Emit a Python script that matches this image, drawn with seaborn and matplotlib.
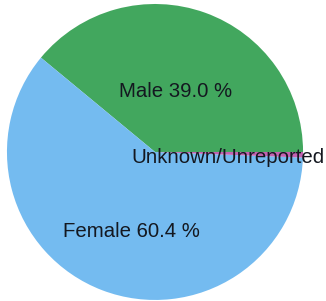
import numpy as np
import matplotlib
matplotlib.use("Agg")
from matplotlib import pyplot as plt
import seaborn as sns

# gender breakdown
groups = ['Male', 'Female', 'Unknown/Unreported']
shares = [39.0, 60.4, 0.6]
colours = ['#42a75e', '#74bbf0', '#c262b0']

sns.set_style('white')
plt.rcParams['font.family'] = ['Liberation Sans', 'DejaVu Sans']

labels = []
for g, s in zip(groups, shares):
    if g.startswith('Unknown'):
        labels.append(g)
    else:
        labels.append('%s %.1f %%' % (g, s))

# where the labels sit (data coords, pie radius 1)
label_pos = [(0.142, 0.412), (-0.162, -0.534), (0.493, -0.034)]

fig = plt.figure(figsize=(3.26, 3.01), dpi=100)
ax = fig.add_axes([0, 0, 1, 1])
wedges, texts = ax.pie(shares, labels=labels, colors=colours, startangle=0,
                       counterclock=True, labeldistance=0.5,
                       wedgeprops={'linewidth': 0, 'edgecolor': 'none'},
                       textprops={'fontsize': 14.7, 'color': '#141820'})
for t, p in zip(texts, label_pos):
    t.set_position(p)
    t.set_ha('center')
    t.set_va('center')

ax.set_xlim(-1.047, 1.155)
ax.set_ylim(-1.007, 1.027)
ax.set_aspect('auto')
ax.axis('off')

plt.savefig('out.png', dpi=100)
plt.close()
